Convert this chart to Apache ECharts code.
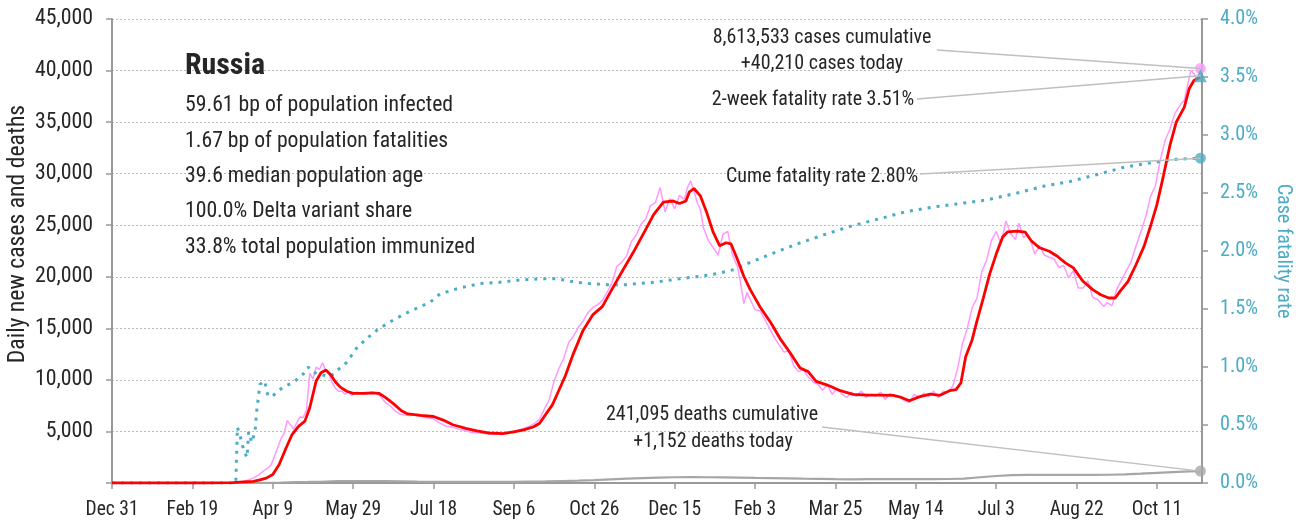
<!DOCTYPE html>
<html>
<head>
<meta charset="utf-8">
<script src="https://cdn.jsdelivr.net/npm/echarts@6/dist/echarts.min.js"></script>
<style>
  html, body { margin: 0; padding: 0; background: #fff; }
  #chart { width: 1300px; height: 522px; }
</style>
</head>
<body>
<div id="chart"></div>
<script>
// Day 0 is 31 Dec 2019; every series is a list of [day, value] pairs.
const xTickLabels = ['Dec 31', 'Feb 19', 'Apr 9', 'May 29', 'Jul 18', 'Sep 6', 'Oct 26',
  'Dec 15', 'Feb 3', 'Mar 25', 'May 14', 'Jul 3', 'Aug 22', 'Oct 11'];
const leftTickLabels = ['', '5,000', '10,000', '15,000', '20,000', '25,000', '30,000',
  '35,000', '40,000', '45,000'];
const rightTickLabels = ['0.0%', '0.5%', '1.0%', '1.5%', '2.0%', '2.5%', '3.0%', '3.5%', '4.0%'];

const countryName = 'Russia';
const infoLines = [
  '59.61 bp of population infected',
  '1.67 bp of population fatalities',
  '39.6 median population age',
  '100.0% Delta variant share',
  '33.8% total population immunized'
];
const totalCases = 8613533;
const totalDeaths = 241095;
const twoWeekRate = 3.51;

// Daily new cases
const dailyCases = [
  [0,0],[60,5],[72,20],[78,60],[82,180],[85,300],[88,500],[91,770],[94,1150],[97,1460],
  [99,1780],[101,2560],[103,3390],[105,4270],[107,4780],[109,6060],[111,5640],[113,5240],
  [115,5850],[117,6410],[119,6360],[121,7100],[123,10630],[125,10100],[127,11230],[129,11010],
  [131,11650],[133,10900],[135,10600],[137,9700],[139,9200],[141,8900],[143,8900],[145,8600],
  [147,8900],[149,8500],[152,8800],[155,8700],[158,8600],[161,8800],[164,8700],[167,8400],
  [170,7800],[173,7500],[176,7000],[179,6700],[182,6600],[185,6550],[188,6600],[191,6500],
  [194,6400],[197,6300],[200,6200],[204,5800],[208,5500],[212,5400],[216,5200],[220,5100],
  [224,4900],[228,4870],[232,4800],[236,4750],[240,4800],[244,4900],[248,5000],[252,5100],
  [256,5300],[260,5500],[263,5800],[266,6200],[269,7200],[272,8100],[275,9900],[278,11100],
  [281,12100],[284,13600],[287,14200],[290,15100],[293,15700],[296,16500],[299,17000],
  [302,17300],[305,17700],[308,18500],[311,19400],[314,21000],[317,21400],[320,22000],
  [323,23400],[326,24000],[329,25100],[332,25600],[335,26900],[338,27200],[341,28650],
  [344,26300],[347,27600],[350,26600],[353,27900],[356,27500],[358,28700],[360,29300],
  [362,28300],[364,27200],[366,26500],[368,24700],[371,23500],[374,22800],[377,22100],
  [380,24100],[383,24400],[386,22100],[389,21000],[391,19400],[393,17400],[395,18500],
  [397,17800],[400,16800],[403,16700],[406,15900],[409,15000],[412,14100],[415,13400],
  [418,12700],[421,12800],[424,11400],[427,10800],[430,11000],[433,10300],[436,9800],
  [439,9600],[442,9000],[445,9500],[448,8600],[451,9200],[454,8600],[457,8300],[460,8800],
  [463,8400],[466,8900],[469,8300],[472,8600],[475,8400],[478,8800],[481,8100],[484,8700],
  [487,8400],[490,8300],[493,8000],[496,7800],[499,8600],[502,8300],[505,8700],[508,8400],
  [511,8900],[514,8300],[517,8900],[520,8800],[523,9400],[526,11100],[529,13500],[532,15000],
  [535,17000],[538,17900],[541,20500],[544,21600],[547,23500],[550,24400],[553,23200],
  [556,25400],[559,24200],[562,23600],[564,25200],[567,23800],[569,24100],[571,23700],
  [574,22200],[577,23000],[580,22100],[583,21900],[586,21700],[589,20900],[592,21100],
  [595,19900],[598,20600],[601,18900],[604,18900],[607,19600],[610,18000],[613,17800],
  [617,17120],[619,17500],[622,17200],[625,18800],[628,19700],[631,20600],[634,21500],
  [637,23000],[640,24400],[643,25800],[646,27800],[649,28800],[652,31300],[655,33200],
  [658,34300],[661,35800],[665,36800],[667,37100],[671,40000],[673,39700],[675,39100],
  [677,40210]
];

// 7-day average of new cases
const avgCases = [
  [0,0],[60,0],[75,30],[82,100],[88,150],[92,300],[96,470],[100,830],[104,1800],[108,3300],
  [112,4700],[116,5500],[120,6000],[123,7300],[127,9900],[130,10700],[133,10960],[136,10500],
  [139,9800],[142,9300],[146,8900],[150,8700],[156,8700],[162,8750],[166,8700],[170,8300],
  [175,7700],[180,7000],[184,6700],[192,6550],[200,6450],[206,6100],[212,5650],[220,5300],
  [227,5050],[234,4850],[243,4790],[250,4950],[256,5150],[262,5430],[266,5800],[270,6700],
  [274,7600],[278,9000],[282,10400],[287,12550],[293,14800],[299,16300],[305,17100],
  [312,19070],[318,20700],[324,22300],[331,24300],[337,26050],[343,27250],[349,27350],
  [353,27100],[357,27350],[359,28200],[362,28560],[366,27840],[370,26200],[374,24300],
  [378,23000],[382,23300],[385,23200],[389,21700],[393,20050],[397,18750],[403,17100],
  [410,15500],[416,13900],[422,12580],[428,11150],[433,10800],[438,9850],[445,9500],
  [453,8950],[461,8600],[470,8520],[478,8520],[486,8490],[491,8300],[496,7970],[502,8350],
  [509,8620],[515,8500],[521,8950],[525,9050],[528,9700],[531,12250],[535,13880],[538,15700],
  [542,17950],[546,20300],[550,22200],[554,23850],[557,24350],[563,24430],[568,24330],
  [572,23450],[577,22810],[583,22480],[588,21990],[593,21350],[598,20860],[604,19560],
  [610,18750],[615,18260],[620,17940],[624,17940],[627,18580],[632,19560],[637,21190],
  [642,22970],[646,24920],[650,27030],[654,29790],[658,32710],[662,34990],[667,36450],
  [670,38230],[673,39040],[677,39370]
];

// Daily deaths
const dailyDeaths = [
  [0,0],[80,1],[95,20],[105,50],[115,90],[122,100],[130,120],[140,180],[150,190],[160,190],
  [170,180],[180,170],[190,140],[200,120],[210,110],[220,100],[230,100],[240,110],[250,110],
  [260,130],[270,150],[280,190],[290,230],[300,280],[310,350],[320,420],[330,480],[340,530],
  [350,560],[360,580],[370,560],[380,550],[390,530],[400,500],[410,480],[420,450],[430,420],
  [440,400],[450,370],[460,360],[470,370],[480,380],[490,370],[500,370],[510,380],[520,390],
  [530,420],[540,560],[550,680],[560,760],[570,790],[580,790],[590,790],[600,790],[610,790],
  [620,800],[630,830],[640,900],[650,990],[660,1060],[670,1120],[677,1152]
];

// Cumulative case fatality rate, percent
const cumeRate = [
  [0,0],[40,0],[77,0],[78,0.48],[80,0.39],[82,0.28],[84,0.22],[85,0.44],[87,0.35],[89,0.45],
  [90,0.62],[92,0.85],[95,0.88],[97,0.75],[100,0.75],[103,0.79],[107,0.83],[113,0.87],
  [119,0.94],[122,1.0],[125,0.955],[131,0.93],[136,0.92],[140,0.97],[146,1.04],[152,1.16],
  [158,1.24],[165,1.32],[173,1.39],[181,1.45],[190,1.51],[198,1.56],[204,1.63],[216,1.68],
  [229,1.72],[241,1.73],[254,1.75],[266,1.76],[277,1.76],[285,1.74],[295,1.72],[308,1.71],
  [320,1.71],[337,1.73],[353,1.76],[370,1.79],[378,1.81],[387,1.84],[395,1.89],[411,1.98],
  [428,2.07],[445,2.15],[461,2.22],[478,2.28],[494,2.34],[511,2.38],[528,2.41],[544,2.44],
  [563,2.50],[580,2.56],[596,2.60],[613,2.66],[629,2.72],[646,2.76],[662,2.79],[677,2.80]
];

const FONT = '"Roboto Condensed", "Liberation Sans Narrow", "DejaVu Sans Condensed", "Roboto", sans-serif';
const TEXT = '#262626';
const TEAL = '#4bacc6';
const PINK = '#ff99ff';
const GREY = '#a6a6a6';
const LEADER = '#bfbfbf';

const last = arr => arr[arr.length - 1];
const fmt = n => n.toLocaleString('en-US');

// Font size that makes a sample string occupy a given width in the chosen face
const measureCtx = document.createElement('canvas').getContext('2d');
function fitSize(sample, width, weight) {
  measureCtx.font = `${weight || 'normal'} 100px ${FONT}`;
  return Math.round(1000 * width / measureCtx.measureText(sample).width) / 10;
}
const tickSize = fitSize('45,000', 58);
const dateSize = fitSize('Dec 31', 53);
const pctSize = fitSize('4.0%', 38);
const infoSize = fitSize(infoLines[0], 268);
const titleSize = fitSize(countryName, 80, 'bold');
const calloutSize = fitSize('8,613,533 cases cumulative', 219);
const leftNameSize = fitSize('Daily new cases and deaths', 258);
const rightNameSize = fitSize('Case fatality rate', 135);

const chart = echarts.init(document.getElementById('chart'), null, { renderer: 'canvas' });

chart.setOption({
  animation: false,
  backgroundColor: '#fff',
  textStyle: { fontFamily: FONT },
  grid: { left: 112, right: 98, top: 19, bottom: 39, containLabel: false },
  xAxis: {
    type: 'value', min: 0, max: 678, interval: 50,
    axisLine: { show: true, lineStyle: { color: '#999', width: 2 } },
    axisTick: { show: true, length: 6, lineStyle: { color: '#999', width: 1.5 } },
    splitLine: { show: false },
    axisLabel: {
      showMaxLabel: false, margin: 17, color: TEXT, fontSize: dateSize, fontFamily: FONT,
      formatter: v => (v % 50 === 0 ? (xTickLabels[v / 50] || '') : '')
    }
  },
  yAxis: [
    {
      type: 'value', min: 0, max: 45000, interval: 5000,
      axisLine: { show: true, lineStyle: { color: '#999', width: 2 } },
      axisTick: { show: true, length: 6, lineStyle: { color: '#999', width: 1.5 } },
      splitLine: { show: true, lineStyle: { color: '#bbb', width: 1, type: [2, 2] } },
      axisLabel: {
        margin: 19, color: TEXT, fontSize: tickSize, fontFamily: FONT,
        formatter: v => leftTickLabels[Math.round(v / 5000)]
      }
    },
    {
      type: 'value', min: 0, max: 4, interval: 0.5, position: 'right',
      axisLine: { show: true, lineStyle: { color: '#999', width: 2 } },
      axisTick: { show: true, length: 6, lineStyle: { color: '#999', width: 1.5 } },
      splitLine: { show: false },
      axisLabel: {
        margin: 18, color: TEAL, fontSize: pctSize, fontFamily: FONT,
        formatter: v => rightTickLabels[Math.round(v / 0.5)]
      }
    }
  ],
  series: [
    {
      name: 'Daily cases', type: 'line', data: dailyCases, yAxisIndex: 0,
      symbol: 'none', lineStyle: { color: PINK, width: 1.5 }, z: 2
    },
    {
      name: 'Daily deaths', type: 'line', data: dailyDeaths, yAxisIndex: 0,
      symbol: 'none', lineStyle: { color: GREY, width: 2.2 }, z: 3
    },
    {
      name: 'Cume fatality rate', type: 'line', data: cumeRate, yAxisIndex: 1,
      symbol: 'none', lineStyle: { color: TEAL, width: 3, type: [3, 6] }, z: 4
    },
    {
      name: '7-day average', type: 'line', data: avgCases, yAxisIndex: 0,
      symbol: 'none', lineStyle: { color: '#ff0000', width: 2.8 }, z: 5
    },
    {
      name: 'Today cases', type: 'scatter', yAxisIndex: 0, data: [last(dailyCases)],
      symbol: 'circle', symbolSize: 11, itemStyle: { color: PINK }, z: 6
    },
    {
      name: 'Today deaths', type: 'scatter', yAxisIndex: 0, data: [last(dailyDeaths)],
      symbol: 'circle', symbolSize: 11, itemStyle: { color: GREY }, z: 6
    },
    {
      name: 'Cume rate now', type: 'scatter', yAxisIndex: 1, data: [last(cumeRate)],
      symbol: 'circle', symbolSize: 11, itemStyle: { color: TEAL }, z: 6
    },
    {
      name: '2-week rate', type: 'scatter', yAxisIndex: 1, data: [[last(cumeRate)[0], twoWeekRate]],
      symbol: 'triangle', symbolSize: 13, itemStyle: { color: TEAL }, z: 6
    }
  ]
});

// Callout texts, axis titles and leader lines anchored to the end-of-series markers
function txt(text, x, y, size, align, opts) {
  const o = opts || {};
  return {
    type: 'text', z: 60, x, y, rotation: o.rotation || 0,
    style: {
      text, x: 0, y: 0, fill: o.color || TEXT,
      font: `${o.weight || 'normal'} ${size}px ${FONT}`,
      textAlign: align, align, textVerticalAlign: 'middle', verticalAlign: 'middle'
    }
  };
}
function leader(x1, y1, seriesIndex, point) {
  const p = chart.convertToPixel({ seriesIndex }, point);
  return {
    type: 'line', z: 55,
    shape: { x1, y1, x2: p[0], y2: p[1] },
    style: { stroke: LEADER, lineWidth: 1.5 }
  };
}

const graphics = [
  txt('Daily new cases and deaths', 18, 234, leftNameSize, 'center', { rotation: Math.PI / 2 }),
  txt('Case fatality rate', 1283, 251, rightNameSize, 'center', { rotation: -Math.PI / 2, color: TEAL }),
  txt(countryName, 185, 67, titleSize, 'left', { weight: 'bold' }),
  ...infoLines.map((s, i) => txt(s, 185, 106 + i * 35.3, infoSize, 'left')),
  txt(`${fmt(totalCases)} cases cumulative`, 822, 38, calloutSize, 'center'),
  txt(`+${fmt(last(dailyCases)[1])} cases today`, 822, 64, calloutSize, 'center'),
  leader(937, 50, 4, last(dailyCases)),
  txt(`2-week fatality rate ${twoWeekRate.toFixed(2)}%`, 813, 100, calloutSize, 'center'),
  leader(917, 99, 7, [last(cumeRate)[0], twoWeekRate]),
  txt(`Cume fatality rate ${last(cumeRate)[1].toFixed(2)}%`, 822, 177, calloutSize, 'center'),
  leader(920, 174, 6, last(cumeRate)),
  txt(`${fmt(totalDeaths)} deaths cumulative`, 712, 415, calloutSize, 'center'),
  txt(`+${fmt(last(dailyDeaths)[1])} deaths today`, 713, 442, calloutSize, 'center'),
  leader(822, 427, 5, last(dailyDeaths))
];
chart.setOption({ graphic: { elements: graphics } });
</script>
</body>
</html>
